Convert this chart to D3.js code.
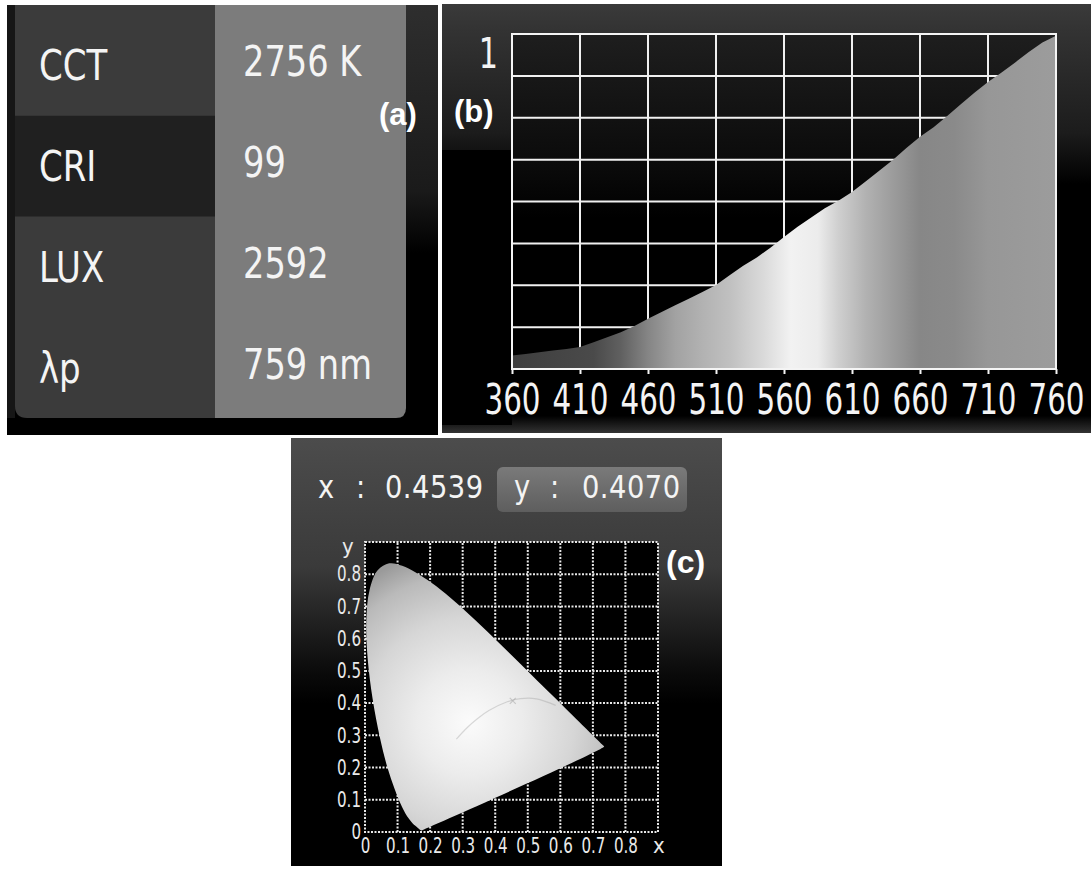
<!DOCTYPE html>
<html>
<head>
<meta charset="utf-8">
<script src="https://cdn.jsdelivr.net/npm/d3@7"></script>
<style>
  html, body { margin: 0; padding: 0; background: #ffffff; }
  svg { display: block; }
  .hum { font-family: "Liberation Sans Narrow", "DejaVu Sans Condensed", "Liberation Sans", sans-serif; font-stretch: condensed; }
  .bold { font-family: "Liberation Sans", Arial, sans-serif; font-weight: bold; }
</style>
</head>
<body>
<script>
// ---------------- DATA ----------------
// Panel (a): measurement readout
const readLabels = ["CCT", "CRI", "LUX", "λp"];
const readValues = ["2756 K", "99", "2592", "759 nm"];

// Panel (b): relative spectral power distribution
const wavelengths = [360,370,380,390,400,410,420,430,440,450,460,470,480,490,500,510,520,530,540,550,560,570,580,590,600,610,620,630,640,650,660,670,680,690,700,710,720,730,740,750,760];
const intensity   = [0.040,0.045,0.050,0.055,0.060,0.066,0.080,0.095,0.110,0.128,0.150,0.170,0.190,0.210,0.230,0.251,0.280,0.308,0.333,0.362,0.394,0.425,0.452,0.480,0.502,0.528,0.560,0.592,0.624,0.660,0.693,0.722,0.755,0.790,0.825,0.857,0.885,0.915,0.946,0.975,0.995];
const specTicks = [360,410,460,510,560,610,660,710,760];
const specYTickLabel = ["1"];

// Panel (c): CIE 1931 chromaticity, spectral locus
const locusX = [0.1741,0.1738,0.1733,0.1726,0.1714,0.1689,0.1644,0.1566,0.1440,0.1241,0.1096,0.0913,0.0687,0.0454,0.0235,0.0082,0.0039,0.0139,0.0389,0.0743,0.1142,0.1547,0.2296,0.3016,0.3731,0.4441,0.5125,0.5752,0.6270,0.6658,0.6915,0.7079,0.7190,0.7300,0.7334,0.7347];
const locusY = [0.0050,0.0049,0.0048,0.0048,0.0051,0.0069,0.0109,0.0177,0.0297,0.0578,0.0868,0.1327,0.2007,0.2950,0.4127,0.5384,0.6548,0.7502,0.8120,0.8338,0.8262,0.8059,0.7543,0.6923,0.6245,0.5547,0.4866,0.4242,0.3725,0.3340,0.3083,0.2920,0.2809,0.2700,0.2666,0.2653];
const planckX = [0.2807,0.3135,0.3451,0.3805,0.4369,0.4770,0.5267,0.5857];
const planckY = [0.2884,0.3237,0.3516,0.3768,0.4041,0.4137,0.4133,0.3931];
const chromaX = 0.4539;
const chromaY = 0.4070;
const cieTicks = [0,0.1,0.2,0.3,0.4,0.5,0.6,0.7,0.8];
const cieTickLabels = ["0","0.1","0.2","0.3","0.4","0.5","0.6","0.7","0.8"];

// ---------------- SVG ----------------
const W = 1091, H = 869;
const svg = d3.select("body").append("svg").attr("width", W).attr("height", H);
const defs = svg.append("defs");

function vgrad(id, stops) {
  const g = defs.append("linearGradient").attr("id", id).attr("x1", 0).attr("y1", 0).attr("x2", 0).attr("y2", 1);
  stops.forEach(s => g.append("stop").attr("offset", s[0]).attr("stop-color", s[1]));
}
vgrad("bgB", [[0, "#3a3a3a"], [0.06, "#333"], [0.3, "#1c1c1c"], [0.42, "#000"], [0.96, "#000"], [1, "#333"]]);
vgrad("plotB", [[0, "#1e1e1e"], [0.4, "#0a0a0a"], [0.55, "#000"], [1, "#000"]]);
vgrad("bgC", [[0, "#4c4c4c"], [0.3, "#3a3a3a"], [0.55, "#0a0a0a"], [0.62, "#000"], [1, "#000"]]);
vgrad("stripA", [[0, "#2e2e2e"], [0.45, "#1a1a1a"], [0.6, "#000"], [1, "#000"]]);
vgrad("boxC", [[0, "#7a7a7a"], [1, "#5e5e5e"]]);

// ================= PANEL (a) =================
const gA = svg.append("g");
gA.append("rect").attr("x", 7).attr("y", 5).attr("width", 431).attr("height", 430).attr("fill", "#000");
gA.append("rect").attr("x", 406).attr("y", 5).attr("width", 32).attr("height", 413).attr("fill", "url(#stripA)");
gA.append("rect").attr("x", 7).attr("y", 5).attr("width", 8).attr("height", 413).attr("fill", "#161616");
gA.append("path").attr("d", "M15,5 H216 V418 H27 Q15,418 15,406 Z").attr("fill", "#3b3b3b");
gA.append("path").attr("d", "M215,5 H406 V408 Q406,418 396,418 H215 Z").attr("fill", "#7c7c7c");

const rowScale = d3.scaleBand().domain(readLabels).range([15, 418]);
gA.append("rect")
  .attr("x", 15).attr("y", rowScale("CRI")).attr("width", 200).attr("height", rowScale.bandwidth())
  .attr("fill", "#202020");

gA.selectAll("text.lab").data(readLabels).join("text")
  .attr("class", "lab hum")
  .attr("transform", d => `translate(39,${rowScale(d) + rowScale.bandwidth() / 2 + 15}) scale(0.9,1)`)
  .attr("font-size", 42).attr("fill", "#f4f4f4")
  .text(d => d);

gA.selectAll("text.val").data(readValues).join("text")
  .attr("class", "val hum")
  .attr("transform", (d, i) => `translate(243,${rowScale(readLabels[i]) + rowScale.bandwidth() / 2 + 11}) scale(0.89,1)`)
  .attr("font-size", 42).attr("fill", "#f4f4f4")
  .text(d => d);

gA.append("text").attr("class", "bold").attr("x", 379).attr("y", 125)
  .attr("font-size", 31).attr("fill", "#fff").text("(a)");

// ================= PANEL (b) =================
const gB = svg.append("g");
gB.append("rect").attr("x", 442).attr("y", 4).attr("width", 649).attr("height", 429).attr("fill", "url(#bgB)");
gB.append("rect").attr("x", 442).attr("y", 150).attr("width", 70).attr("height", 275).attr("fill", "#000");

const xB = d3.scaleLinear().domain([360, 760]).range([512, 1056]);
const yB = d3.scaleLinear().domain([0, 1]).range([369, 34]);

gB.append("rect").attr("x", xB(360)).attr("y", yB(1)).attr("width", xB(760) - xB(360)).attr("height", yB(0) - yB(1)).attr("fill", "url(#plotB)");

// grid
const gridB = gB.append("g").attr("stroke", "#f0f0f0").attr("stroke-width", 2);
gridB.selectAll("line.v").data(specTicks.slice(1, -1)).join("line")
  .attr("x1", d => xB(d)).attr("x2", d => xB(d)).attr("y1", yB(0)).attr("y2", yB(1));
gridB.selectAll("line.h").data(d3.range(1, 8).map(i => i / 8)).join("line")
  .attr("y1", d => yB(d)).attr("y2", d => yB(d)).attr("x1", xB(360)).attr("x2", xB(760));

// spectrum gradient (grayscale rendering of the spectral colours)
const sg = defs.append("linearGradient").attr("id", "specFill").attr("gradientUnits", "userSpaceOnUse")
  .attr("x1", xB(360)).attr("x2", xB(760)).attr("y1", 0).attr("y2", 0);
const specStops = [[360, "#3e3e3e"], [420, "#4a4a4a"], [440, "#606060"], [460, "#858585"], [480, "#a2a2a2"], [500, "#b2b2b2"], [520, "#c0c0c0"], [545, "#dadada"], [565, "#f2f2f2"], [585, "#ececec"], [600, "#cfcfcf"], [620, "#b2b2b2"], [640, "#9c9c9c"], [660, "#878787"], [685, "#8a8a8a"], [710, "#979797"], [760, "#9c9c9c"]];
specStops.forEach(s => sg.append("stop").attr("offset", (s[0] - 360) / 400).attr("stop-color", s[1]));

const area = d3.area().x((d, i) => xB(wavelengths[i])).y0(yB(0)).y1(d => yB(d));
gB.append("path").datum(intensity).attr("d", area).attr("fill", "url(#specFill)");

// border
gB.append("rect").attr("x", xB(360)).attr("y", yB(1)).attr("width", xB(760) - xB(360)).attr("height", yB(0) - yB(1))
  .attr("fill", "none").attr("stroke", "#f4f4f4").attr("stroke-width", 2);

// x axis
const axB = gB.append("g").attr("transform", `translate(0,${yB(0)})`)
  .call(d3.axisBottom(xB).tickValues(specTicks).tickFormat(d3.format("d")).tickSize(5).tickPadding(9));
axB.select(".domain").remove();
axB.selectAll(".tick line").attr("stroke", "#f4f4f4").attr("stroke-width", 2);
axB.selectAll(".tick text").attr("class", "hum").attr("font-size", 43).attr("fill", "#f4f4f4")
  .attr("transform", "scale(0.76,1)");

// y label "1"
gB.selectAll("text.ylab").data(specYTickLabel).join("text")
  .attr("class", "ylab hum").attr("text-anchor", "end")
  .attr("transform", `translate(498,${yB(0.875) - 8}) scale(0.8,1)`)
  .attr("font-size", 42).attr("fill", "#f4f4f4").text(d => d);

gB.append("text").attr("class", "bold").attr("x", 454).attr("y", 122)
  .attr("font-size", 31).attr("fill", "#fff").text("(b)");

// ================= PANEL (c) =================
const gC = svg.append("g");
gC.append("rect").attr("x", 291).attr("y", 438).attr("width", 431).attr("height", 428).attr("fill", "url(#bgC)");

// coordinate readout
gC.append("rect").attr("x", 497).attr("y", 467).attr("width", 190).attr("height", 45).attr("rx", 6).attr("fill", "url(#boxC)");
const readout = [
  { t: "x", x: 318 }, { t: ":", x: 356 }, { t: chromaX.toFixed(4), x: 385 },
  { t: "y", x: 514 }, { t: ":", x: 550 }, { t: chromaY.toFixed(4), x: 582 }
];
gC.selectAll("text.ro").data(readout).join("text")
  .attr("class", "ro hum")
  .attr("transform", d => `translate(${d.x},498) scale(0.95,1)`)
  .attr("font-size", 32).attr("letter-spacing", 0.5).attr("fill", "#f4f4f4")
  .text(d => d.t);

const xC = d3.scaleLinear().domain([0, 0.9]).range([365, 658]);
const yC = d3.scaleLinear().domain([0, 0.9]).range([832, 542]);

gC.append("rect").attr("x", xC(0)).attr("y", yC(0.9)).attr("width", xC(0.9) - xC(0)).attr("height", yC(0) - yC(0.9)).attr("fill", "#000");

const gridC = gC.append("g").attr("stroke", "#e8e8e8").attr("stroke-width", 2).attr("stroke-dasharray", "2,1.5");
gridC.selectAll("line.v").data(cieTicks.slice(1)).join("line")
  .attr("x1", d => xC(d)).attr("x2", d => xC(d)).attr("y1", yC(0)).attr("y2", yC(0.9));
gridC.selectAll("line.h").data(cieTicks.slice(1)).join("line")
  .attr("y1", d => yC(d)).attr("y2", d => yC(d)).attr("x1", xC(0)).attr("x2", xC(0.9));
gC.append("rect").attr("x", xC(0)).attr("y", yC(0.9)).attr("width", xC(0.9) - xC(0)).attr("height", yC(0) - yC(0.9))
  .attr("fill", "none").attr("stroke", "#e8e8e8").attr("stroke-width", 2).attr("stroke-dasharray", "2,1.5");

// horseshoe fill
const rg = defs.append("radialGradient").attr("id", "cieFill").attr("gradientUnits", "userSpaceOnUse")
  .attr("cx", xC(0.32)).attr("cy", yC(0.34)).attr("r", 175);
[[0, "#fbfbfb"], [0.3, "#ececec"], [0.6, "#d6d6d6"], [0.85, "#bababa"], [1, "#9a9a9a"]]
  .forEach(s => rg.append("stop").attr("offset", s[0]).attr("stop-color", s[1]));
const locusPts = locusX.map((x, i) => [xC(x), yC(locusY[i])]);
gC.append("path").attr("d", d3.line().curve(d3.curveCatmullRomClosed)(locusPts)).attr("fill", "url(#cieFill)");

// Planckian locus (faint) and chromaticity point
gC.append("path").attr("d", d3.line().curve(d3.curveCatmullRom)(planckX.map((x, i) => [xC(x), yC(planckY[i])])))
  .attr("fill", "none").attr("stroke", "#999").attr("stroke-opacity", 0.35).attr("stroke-width", 1.2);
gC.append("path").attr("d", `M${xC(chromaX) - 3},${yC(chromaY) - 3}L${xC(chromaX) + 3},${yC(chromaY) + 3}M${xC(chromaX) + 3},${yC(chromaY) - 3}L${xC(chromaX) - 3},${yC(chromaY) + 3}`)
  .attr("stroke", "#999").attr("stroke-opacity", 0.45).attr("stroke-width", 1.2);

// axes labels
const axCx = gC.append("g").attr("transform", `translate(0,${yC(0)})`)
  .call(d3.axisBottom(xC).tickValues(cieTicks).tickFormat((d, i) => cieTickLabels[i]).tickSize(0).tickPadding(6));
axCx.select(".domain").remove();
axCx.selectAll(".tick text").attr("class", "hum").attr("font-size", 21).attr("fill", "#eaeaea").attr("transform", "scale(0.8,1)");
const axCy = gC.append("g").attr("transform", `translate(${xC(0)},0)`)
  .call(d3.axisLeft(yC).tickValues(cieTicks).tickFormat((d, i) => cieTickLabels[i]).tickSize(0).tickPadding(5));
axCy.select(".domain").remove();
axCy.selectAll(".tick text").attr("class", "hum").attr("font-size", 21).attr("fill", "#eaeaea").attr("transform", "scale(0.8,1)");

gC.append("text").attr("class", "hum").attr("x", xC(0.9) - 5).attr("y", yC(0) + 21).attr("font-size", 22).attr("fill", "#eaeaea").text("x");
gC.append("text").attr("class", "hum").attr("x", xC(0) - 23).attr("y", yC(0.9) + 12).attr("font-size", 22).attr("fill", "#eaeaea").text("y");

gC.append("text").attr("class", "bold").attr("x", 666).attr("y", 573)
  .attr("font-size", 32).attr("fill", "#fff").text("(c)");
</script>
</body>
</html>
